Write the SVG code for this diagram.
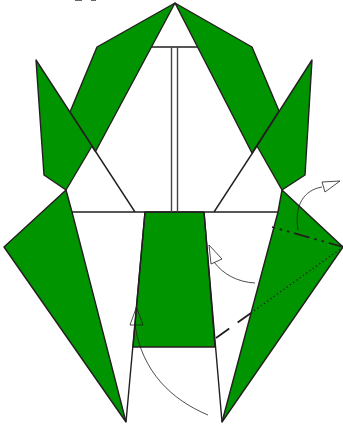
<svg xmlns="http://www.w3.org/2000/svg" width="343" height="428" viewBox="0 0 343 428">
<style>
.g{fill:#009400;stroke:#231f20;stroke-width:1.400;stroke-linejoin:round}
.l{fill:none;stroke:#231f20;stroke-width:1.400}
.c{fill:none;stroke:#444;stroke-width:1.400}
.d1{fill:none;stroke:#231f20;stroke-width:1.800;stroke-dasharray:16 5 2.500 5 2.500 5;stroke-dashoffset:13}
.d2{fill:none;stroke:#231f20;stroke-width:1.300;stroke-dasharray:1.300 2.700}
.d3{fill:none;stroke:#231f20;stroke-width:1.800;stroke-dasharray:16.400 10.300}
.t{fill:none;stroke:#231f20;stroke-width:.8}
.e{fill:none;stroke:#666;stroke-width:1}
</style>
<rect width="343" height="428" fill="#fff"/>
<g id="sheet">
<path class="e" d="M75,0.500H82M91,0.500H96"/>
<polygon class="g" points="175,3 97,47 70,112 95.500,151.500"/>
<polygon class="g" points="175,3 252,47 279,111 252,153"/>
<polygon class="g" points="36,60 44,175 66,190 92,146"/>
<polygon class="g" points="312,60 305,175 282,190 257,146"/>
<polygon class="g" points="66,190 4,247 126,422 72,212"/>
<polygon class="g" points="282,190 343,247 222,422 278,212"/>
<polygon class="g" points="145,212 204,212 215,347 133,347"/>
</g>
<g id="connectors">
<path class="l" d="M151,47H197M72,212H278M92,146L135,212M257,146L214,212M145,212L126,422M204,212L222,422"/>
<path class="c" d="M171.500,47V212M177.500,47V212"/>
<path class="d1" d="M272,227L343,247"/>
<path class="d2" d="M343,247L251,313"/>
<path class="d3" d="M251,313L216,338"/>
<path class="t" d="M208,415C172,400 142,372 135,325"/>
<path class="t" d="M136.500,307L130,325H143Z"/>
<path class="t" d="M255,283C237,282 223,274 214,262"/>
<path class="t" d="M209,245L211,264L222,259Z"/>
<path class="t" d="M298,230C294,205 304,190 322,187"/>
<path class="t" d="M340,181L322,182L325,192Z"/>
</g>
</svg>
